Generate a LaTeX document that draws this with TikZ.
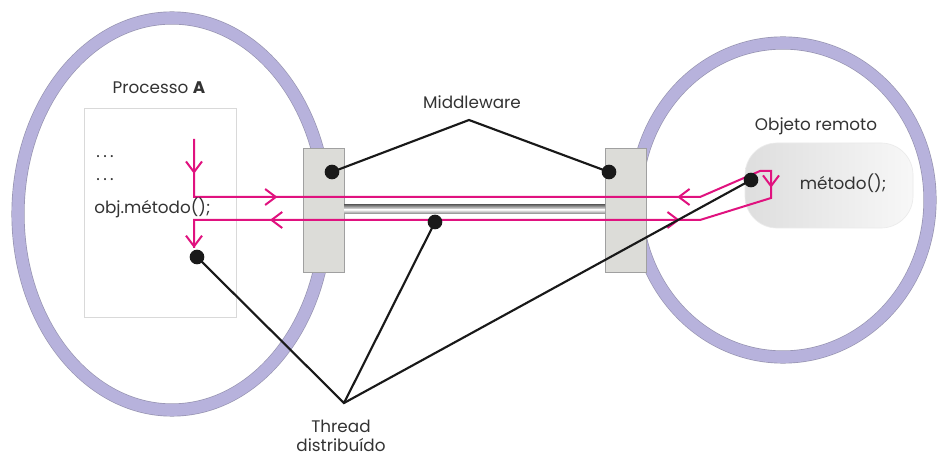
\documentclass[tikz,border=0pt]{standalone}
\usepackage{fontspec}
\setmainfont{Poppins}
\usetikzlibrary{arrows.meta,decorations.markings}

\definecolor{ring}{HTML}{B7B2DC}
\definecolor{ringedge}{HTML}{9693B0}
\definecolor{thread}{HTML}{E0127F}
\definecolor{mwfill}{HTML}{DCDCD8}
\definecolor{mwedge}{HTML}{A0A0A0}
\definecolor{txt}{HTML}{333333}

\tikzset{
  ringedgeline/.style={draw=ringedge, line width=9.8pt},
  ringline/.style={draw=ring, line width=8.8pt},
  mwbox/.style={draw=mwedge, fill=mwfill, line width=0.6pt, minimum width=30.75pt, minimum height=93pt, inner sep=0pt},
  blob/.style={circle, fill=black!90, minimum size=11pt, inner sep=0pt},
  lbl/.style={text=txt, font=\fontsize{12.6}{14}\selectfont, inner sep=0pt},
  threadline/.style={draw=thread, line width=1.5pt, line join=miter},
  vtip/.tip={Straight Barb[length=8pt, width=12pt]},
  fwdarrow/.style={thread, line width=1.5pt, postaction={decorate},
    decoration={markings, mark=at position #1 with {\arrow{vtip}}}},
  revarrow/.style={thread, line width=1.5pt, postaction={decorate},
    decoration={markings, mark=at position #1 with {\arrowreversed{vtip}}}},
  pointer/.style={draw=black!90, line width=1.6pt},
}
\newcommand{\spaceddots}{.\hspace{2.6pt}.\hspace{2.6pt}.}

\begin{document}
\begin{tikzpicture}[x=0.75pt, y=-0.75pt]
\useasboundingbox (0,0) rectangle (938,459);
\fill[white] (0,0) rectangle (938,459);

% the two process rings
\path[ringedgeline] (172,214) ellipse [x radius=115.5pt, y radius=147pt];
\path[ringline]     (172,214) ellipse [x radius=115.5pt, y radius=147pt];
\path[ringedgeline] (783,200) ellipse [x radius=110.25pt, y radius=117.75pt];
\path[ringline]     (783,200) ellipse [x radius=110.25pt, y radius=117.75pt];

% code sheet of process A
\draw[draw=black!15, fill=white, line width=0.6pt] (84,108) rectangle (236,317);

% remote object
\shade[left color=black!13, right color=black!3, draw=black!8, line width=0.5pt, rounded corners=24pt]
  (745,143) rectangle (913,228);

% middleware stubs
\node[mwbox] (mwL) at (323.5,210) {};
\node[mwbox] (mwR) at (626,210) {};

% channel between the stubs
\shade[top color=black!55, bottom color=black!10] (344,205) rectangle (605,209);
\shade[top color=black!5, bottom color=black!50] (344,210) rectangle (605,214);

% thread path
\coordinate (t0) at (194,139);
\coordinate (t1) at (194,197);
\coordinate (t2) at (700,197);
\coordinate (t3) at (760,171);
\coordinate (t4) at (771,171);
\coordinate (t5) at (771,198);
\coordinate (t6) at (700,220);
\coordinate (t7) at (194,220);
\coordinate (t8) at (194,248);
\path[threadline] (t0) -- (t1) -- (t2) -- (t3) -- (t4) -- (t5) -- (t6) -- (t7) -- (t8);
\path[fwdarrow=0.6]  (t0) -- (t1);
\path[fwdarrow=0.165] (t1) -- (t2);
\path[revarrow=0.955] (t1) -- (t2);
\path[fwdarrow=0.62]  (t4) -- (t5);
\path[revarrow=0.04]  (t6) -- (t7);
\path[fwdarrow=0.85]  (t6) -- (t7);
\path[fwdarrow=1]     (t7) -- (t8);

% thread and middleware markers
\node[blob] (dA)  at (197,257) {};
\node[blob] (dCh) at (435,222) {};
\node[blob] (dOb) at (751,180) {};
\node[blob] (dmL) at (332,172) {};
\node[blob] (dmR) at (609,172) {};

\coordinate (mwApex) at (469,120);
\coordinate (thApex) at (344,403);
\path[pointer] (dmL.center) -- (mwApex) -- (dmR.center);
\path[pointer] (dA.center) -- (thApex) -- (dOb.center);
\path[pointer] (dCh.center) -- (thApex);

% labels
\node[lbl] (lblA) at (159,88) {Processo \textbf{A}};
\node[lbl, anchor=west] (c1) at (96,157) {\spaceddots};
\node[lbl, anchor=west] (c2) at (96,180) {\spaceddots};
\node[lbl, anchor=west] (c3) at (94,208) {obj.método();};
\node[lbl] (lblMw) at (472,102) {Middleware};
\node[lbl] (lblOb) at (816,126) {Objeto remoto};
\node[lbl] (lblMet) at (843,183) {método();};
\node[lbl] (lblTh1) at (341,426) {Thread};
\node[lbl] (lblTh2) at (341,445) {distribuído};
\end{tikzpicture}
\end{document}
